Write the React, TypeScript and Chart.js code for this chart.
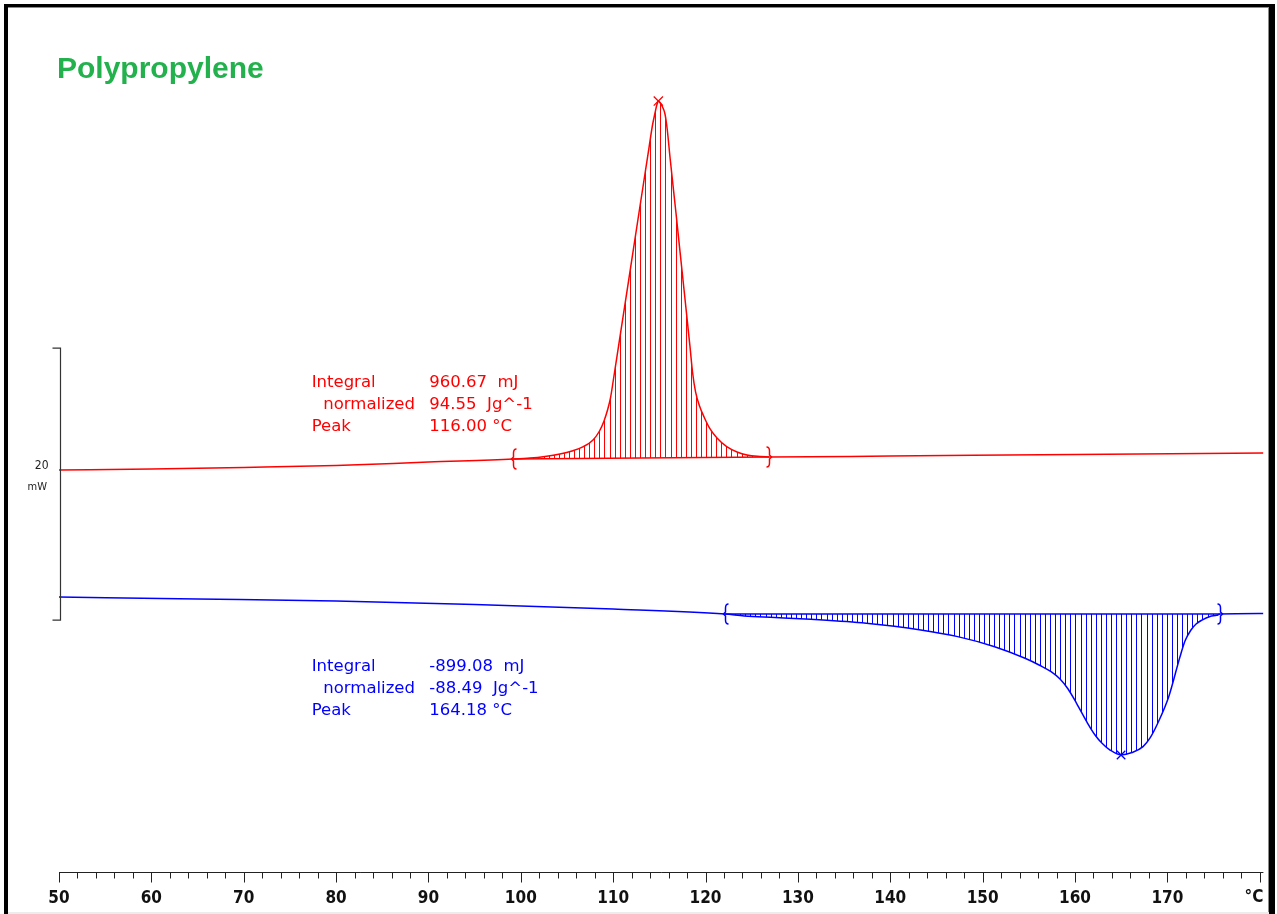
import React, { useEffect, useRef } from "react";
import { Chart, registerables } from "chart.js";

Chart.register(...registerables);

// ---------------- data ----------------
const chartTitle = "Polypropylene";

// cooling run (red) : temperature (°C) / heat flow (mW)
const coolingTemp = [50, 60, 70, 80, 90, 99.16, 101.0, 102.62, 104.24, 105.54, 106.77, 107.82, 108.52, 109.01, 109.39, 109.71, 110.02, 110.57, 111.68, 112.79, 113.89, 114.26, 114.53, 114.71, 114.89, 115.11, 115.37, 115.61, 115.86, 116.15, 116.8, 117.56, 118.32, 118.59, 118.92, 119.35, 119.84, 120.49, 121.24, 122.29, 123.41, 124.49, 125.9, 126.87, 140, 160, 180.4];
const coolingHeatFlow = [29.63, 29.71, 29.82, 29.96, 30.22, 30.44, 30.51, 30.63, 30.81, 31.03, 31.35, 31.84, 32.5, 33.24, 34.04, 34.93, 36.25, 38.68, 43.6, 48.53, 53.38, 55.0, 55.88, 56.43, 56.76, 56.62, 56.29, 55.81, 54.63, 52.65, 48.53, 43.6, 38.68, 36.84, 35.37, 34.34, 33.53, 32.65, 31.99, 31.35, 30.96, 30.74, 30.63, 30.59, 30.66, 30.77, 30.88];
const coolingLimits = [99.16, 126.87];
const coolingPeak = [114.89, 56.76];

// heating run (blue)
const heatingTemp = [50, 65, 80, 95, 110, 122.1, 124.2, 127.5, 131.4, 137.4, 143.3, 147.3, 151.3, 154.59, 156.22, 157.41, 158.38, 159.25, 160.17, 161.37, 162.17, 162.93, 163.8, 164.99, 166.18, 167.37, 168.13, 168.96, 170.15, 171.37, 171.91, 172.56, 173.11, 173.75, 174.62, 175.35, 175.7, 180.4];
const heatingHeatFlow = [20.29, 20.15, 20.0, 19.74, 19.41, 19.04, 18.9, 18.79, 18.65, 18.36, 17.87, 17.38, 16.64, 15.79, 15.26, 14.8, 14.26, 13.53, 12.48, 11.01, 10.15, 9.54, 9.04, 8.68, 8.86, 9.29, 9.93, 11.01, 12.96, 15.9, 17.06, 17.87, 18.31, 18.6, 18.86, 18.95, 19.04, 19.08];
const heatingLimits = [122.1, 175.7];
const heatingPeak = [164.99, 8.68];

// result texts
const resultLabels = ["Integral", "normalized", "Peak"];
const coolingResults = ["960.67  mJ", "94.55  Jg^-1", "116.00 °C"];
const heatingResults = ["-899.08  mJ", "-88.49  Jg^-1", "164.18 °C"];

// axis
const xMin = 50;
const xMax = 180.4;
const xLabelStep = 10;
const xMinorStep = 2;
const xUnit = "°C";
const scaleBarRange = [18.6, 38.6]; // 20 mW
const scaleBarLabel = ["20", "mW"];
const yMin = 0;
const yMax = 63.5;
const hatchStep = 0.55;

// ---------------- styles ----------------
const RED = "#ff0000";
const BLUE = "#0000ff";
const GREEN = "#22b14c";

const pairs = (xs: number[], ys: number[]) => xs.map((x, i) => ({ x, y: ys[i] }));
const limitPoints = (xs: number[], ys: number[], lim: number[]) =>
  lim.map((t) => ({ x: t, y: ys[xs.indexOf(t)] }));

const decoPlugin = {
  id: "deco",
  afterDatasetsDraw(chart: any) {
    const ctx: CanvasRenderingContext2D = chart.ctx;
    const xs = chart.scales.x;
    const area = chart.chartArea;
    const hatch = (dsIndex: number, limits: number[], color: string) => {
      const meta = chart.getDatasetMeta(dsIndex);
      const pts = meta.data as any[];
      const raw = chart.data.datasets[dsIndex].data as any[];
      let i0 = -1;
      let i1 = -1;
      raw.forEach((d, i) => {
        if (d.x === limits[0]) i0 = i;
        if (d.x === limits[1]) i1 = i;
      });
      if (i0 < 0 || i1 < 0) return;
      ctx.save();
      ctx.beginPath();
      ctx.moveTo(pts[i0].x, pts[i0].y);
      for (let i = i0 + 1; i <= i1; i++) {
        const a = pts[i - 1];
        const b = pts[i];
        if (a.cp2x !== undefined && b.cp1x !== undefined) {
          ctx.bezierCurveTo(a.cp2x, a.cp2y, b.cp1x, b.cp1y, b.x, b.y);
        } else {
          ctx.lineTo(b.x, b.y);
        }
      }
      ctx.closePath();
      ctx.clip();
      ctx.strokeStyle = color;
      ctx.lineWidth = 1;
      ctx.beginPath();
      for (let t = limits[0]; t <= limits[1] + 1e-9; t += hatchStep) {
        const px = Math.round(xs.getPixelForValue(t)) + 0.5;
        ctx.moveTo(px, area.top);
        ctx.lineTo(px, area.bottom);
      }
      ctx.stroke();
      ctx.restore();
    };
    hatch(0, coolingLimits, RED);
    hatch(1, heatingLimits, BLUE);
  },
  afterDraw(chart: any) {
    const ctx: CanvasRenderingContext2D = chart.ctx;
    const xs = chart.scales.x;
    const ys = chart.scales.y;
    const area = chart.chartArea;
    ctx.save();

    // integration limit brackets
    const bracket = (t: number, v: number, dir: number, color: string) => {
      const x = Math.round(xs.getPixelForValue(t)) + 0.5;
      const y = ys.getPixelForValue(v);
      ctx.strokeStyle = color;
      ctx.lineWidth = 1.5;
      ctx.beginPath();
      ctx.moveTo(x + 3 * dir, y - 10);
      ctx.quadraticCurveTo(x, y - 10, x, y - 6);
      ctx.lineTo(x, y - 2);
      ctx.lineTo(x - 2 * dir, y);
      ctx.lineTo(x, y + 2);
      ctx.lineTo(x, y + 6);
      ctx.quadraticCurveTo(x, y + 10, x + 3 * dir, y + 10);
      ctx.stroke();
    };
    const cl = limitPoints(coolingTemp, coolingHeatFlow, coolingLimits);
    const hl = limitPoints(heatingTemp, heatingHeatFlow, heatingLimits);
    bracket(cl[0].x, cl[0].y, 1, RED);
    bracket(cl[1].x, cl[1].y, -1, RED);
    bracket(hl[0].x, hl[0].y, 1, BLUE);
    bracket(hl[1].x, hl[1].y, -1, BLUE);

    // x axis line and ticks
    const yb = Math.round(area.bottom) - 0.5;
    ctx.strokeStyle = "#222";
    ctx.lineWidth = 1;
    ctx.beginPath();
    ctx.moveTo(Math.round(xs.getPixelForValue(xMin)), yb);
    ctx.lineTo(area.right, yb);
    for (let t = xMin; t <= xMax + 1e-9; t += xMinorStep) {
      const px = Math.round(xs.getPixelForValue(t)) + 0.5;
      const len = Math.abs(t % xLabelStep) < 1e-6 ? 10 : 6;
      ctx.moveTo(px, yb);
      ctx.lineTo(px, yb + len);
    }
    ctx.stroke();
    ctx.fillStyle = "#111";
    ctx.font = 'bold 17px "DejaVu Sans Condensed", "DejaVu Sans"';
    ctx.textAlign = "right";
    ctx.textBaseline = "middle";
    ctx.fillText(xUnit, area.right, 898);

    // scale bar
    const yTop = ys.getPixelForValue(scaleBarRange[1]);
    const yBot = ys.getPixelForValue(scaleBarRange[0]);
    const bx = Math.round(area.left) + 1.5;
    ctx.strokeStyle = "#333";
    ctx.lineWidth = 1.2;
    ctx.beginPath();
    ctx.moveTo(bx - 8, yTop);
    ctx.lineTo(bx, yTop);
    ctx.lineTo(bx, yBot);
    ctx.lineTo(bx - 8, yBot);
    ctx.stroke();
    const mid = (yTop + yBot) / 2;
    ctx.fillStyle = "#222";
    ctx.font = '12px "DejaVu Sans Condensed", "DejaVu Sans"';
    ctx.textAlign = "right";
    ctx.fillText(scaleBarLabel[0], bx - 12, mid - 18);
    ctx.font = '11px "DejaVu Sans Condensed", "DejaVu Sans"';
    ctx.fillText(scaleBarLabel[1], bx - 13.5, mid + 3);

    // title
    ctx.textAlign = "left";
    ctx.textBaseline = "alphabetic";
    ctx.fillStyle = GREEN;
    ctx.font = 'bold 30px "Liberation Sans", Arial';
    ctx.fillText(chartTitle, 57, 78.3);

    // result blocks
    const block = (vals: string[], color: string, baseY: number) => {
      ctx.fillStyle = color;
      ctx.font = '16.5px "DejaVu Sans"';
      resultLabels.forEach((lab, i) => {
        const y = baseY + i * 22;
        ctx.fillText(lab, i === 1 ? 323.3 : 311.7, y);
        ctx.fillText(vals[i], 429.3, y);
      });
    };
    block(coolingResults, RED, 386.7);
    block(heatingResults, BLUE, 671);

    ctx.restore();
  },
};

export default function App() {
  const ref = useRef<HTMLCanvasElement>(null);
  useEffect(() => {
    document.body.style.margin = "0";
    const chart = new Chart(ref.current as HTMLCanvasElement, {
      type: "line",
      data: {
        datasets: [
          {
            data: pairs(coolingTemp, coolingHeatFlow),
            borderColor: RED,
            borderWidth: 1.5,
            pointRadius: 0,
            cubicInterpolationMode: "monotone",
            fill: false,
          },
          {
            data: pairs(heatingTemp, heatingHeatFlow),
            borderColor: BLUE,
            borderWidth: 1.5,
            pointRadius: 0,
            cubicInterpolationMode: "monotone",
            fill: false,
          },
          {
            data: limitPoints(coolingTemp, coolingHeatFlow, coolingLimits),
            borderColor: RED,
            borderWidth: 1.5,
            pointRadius: 0,
            fill: false,
          },
          {
            data: limitPoints(heatingTemp, heatingHeatFlow, heatingLimits),
            borderColor: BLUE,
            borderWidth: 1.5,
            pointRadius: 0,
            fill: false,
          },
          {
            data: [{ x: coolingPeak[0], y: coolingPeak[1] }],
            showLine: false,
            pointStyle: "crossRot",
            pointRadius: 6.5,
            pointBorderColor: RED,
            pointBorderWidth: 1.3,
          },
          {
            data: [{ x: heatingPeak[0], y: heatingPeak[1] }],
            showLine: false,
            pointStyle: "crossRot",
            pointRadius: 6,
            pointBorderColor: BLUE,
            pointBorderWidth: 1.3,
          },
        ] as any,
      },
      options: {
        responsive: false,
        animation: false,
        devicePixelRatio: 1,
        events: [],
        layout: { padding: { left: 59, right: 13.6, top: 9.4, bottom: 0 } },
        plugins: {
          legend: { display: false },
          tooltip: { enabled: false },
          title: { display: false },
        },
        scales: {
          x: {
            type: "linear",
            min: xMin,
            max: xMax,
            afterFit: (s: any) => {
              s.height = 41;
            },
            grid: {
              display: true,
              drawOnChartArea: false,
              drawTicks: true,
              tickLength: 10,
              color: "rgba(0,0,0,0)",
              tickColor: "rgba(0,0,0,0)",
            },
            border: { display: false },
            ticks: {
              stepSize: xLabelStep,
              includeBounds: false,
              autoSkip: false,
              maxRotation: 0,
              minRotation: 0,
              padding: 5,
              color: "#111",
              font: { family: '"DejaVu Sans Condensed", "DejaVu Sans"', weight: "bold", size: 17 },
              callback: (v: any) => (Math.abs(v - 180) < 1e-6 ? "" : String(v)),
            },
          },
          y: { type: "linear", display: false, min: yMin, max: yMax },
        },
      } as any,
      plugins: [decoPlugin],
    });
    return () => chart.destroy();
  }, []);

  return (
    <div style={{ position: "relative", width: 1277, height: 914, background: "#fff", overflow: "hidden" }}>
      <div
        style={{
          position: "absolute",
          left: 4,
          top: 4,
          width: 1271,
          height: 910,
          borderTop: "3px solid #000",
          borderLeft: "4px solid #000",
          borderRight: "6px solid #000",
          boxSizing: "border-box",
        }}
      />
      <div
        style={{
          position: "absolute",
          left: 8,
          top: 7,
          width: 1261,
          height: 907,
          borderTop: "1px solid #8a8a8a",
          borderRight: "1px solid #8a8a8a",
          boxSizing: "border-box",
        }}
      />
      <div style={{ position: "absolute", left: 8, top: 912, width: 1261, height: 2, background: "#ececec" }} />
      <canvas ref={ref} width={1277} height={914} style={{ position: "absolute", left: 0, top: 0 }} />
    </div>
  );
}
